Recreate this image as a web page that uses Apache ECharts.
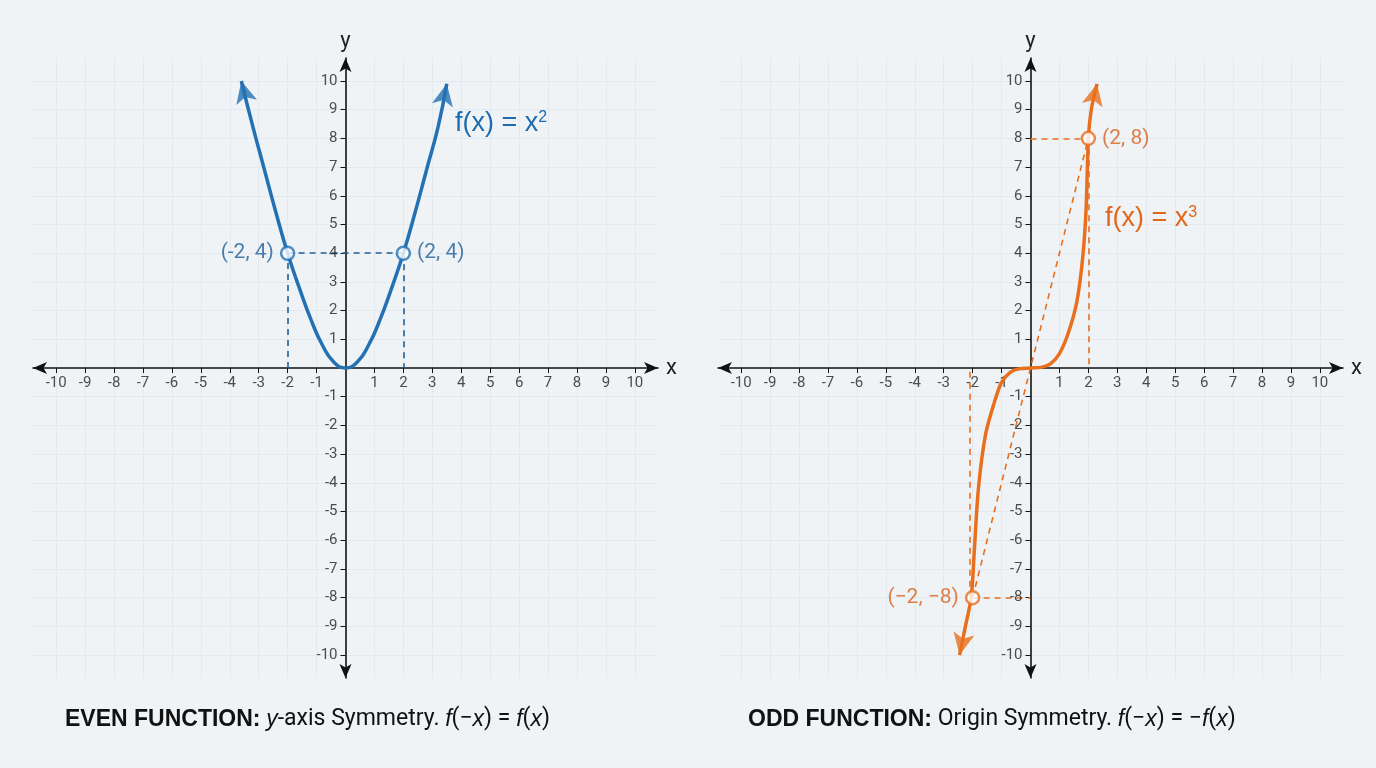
<!DOCTYPE html>
<html><head><meta charset="utf-8">
<script src="https://cdn.jsdelivr.net/npm/echarts@6/dist/echarts.min.js"></script>
<style>html,body{margin:0;background:#eff3f6}#c{width:1376px;height:768px}</style>
</head><body><div id="c"></div>
<script>
// tick labels
const ticks = [-10,-9,-8,-7,-6,-5,-4,-3,-2,-1,1,2,3,4,5,6,7,8,9,10];
// even curve
const evenX = [-3.6,-3.2,-2.8,-2.4,-2,-1.6,-1.2,-0.8,-0.4,0,0.4,0.8,1.2,1.6,2,2.4,2.8,3.2,3.5];
const evenY = [10,8.4,6.9,5.4,4,2.8,1.7,0.8,0.2,0,0.2,0.8,1.7,2.8,4,5.4,6.9,8.4,9.9];
// odd curve
const oddX = [-2.45,-2.25,-2.05,-1.95,-1.8,-1.55,-1.25,-1,-0.7,-0.4,0,0.4,0.7,1,1.3,1.6,1.8,1.92,2,2.1,2.3];
const oddY = [-10,-9,-8,-6.5,-4.2,-2.3,-1.2,-0.5,-0.15,-0.03,0,0.03,0.15,0.5,1.2,2.3,3.8,5.5,8,9,9.9];
const evenPts = [[-2,4],[2,4]];
const oddPts = [[-2,-8],[2,8]];
const blue = '#2370b3', orange = '#e86f1e';

const chart = echarts.init(document.getElementById('c'));
const zip = (a,b)=>a.map((v,i)=>[v,b[i]]);
function arrow(xs, ys, i, j, color, gi){
  const ang = Math.atan2(ys[j]-ys[i], xs[j]-xs[i])*180/Math.PI - 90;
  return {type:'scatter', xAxisIndex:gi, yAxisIndex:gi, symbol:'arrow', symbolSize:[16,22],
    symbolRotate:ang, itemStyle:{color}, data:[[xs[j],ys[j]]], z:5, silent:true};
}
function axes(gi){
  const common = {type:'value', min:-10.8, max:10.8, gridIndex:gi,
    axisLine:{onZero:true, symbol:['arrow','arrow'], symbolSize:[9,14], lineStyle:{color:'#111', width:1.6}},
    axisTick:{show:true, customValues:ticks, length:5, inside:false, lineStyle:{color:'#111'}},
    axisLabel:{show:false},
    splitLine:{show:true, lineStyle:{color:'#e3e9ee'}},
    nameTextStyle:{fontSize:22, color:'#222', fontFamily:'Roboto'}};
  return {x:Object.assign({}, common, {name:'x', nameGap:8}),
          y:Object.assign({}, common, {name:'y', nameGap:6})};
}
// tick labels drawn at the axis positions (axes cross at origin)
function tickLabels(gi){
  const lab = {show:true, color:'#222', fontSize:15, fontFamily:'Roboto', formatter:p=>String(p.data.t)};
  return [
    {type:'scatter', xAxisIndex:gi, yAxisIndex:gi, symbolSize:0, silent:true,
      label:Object.assign({position:'bottom', distance:8}, lab), data:ticks.map(t=>({value:[t,0], t}))},
    {type:'scatter', xAxisIndex:gi, yAxisIndex:gi, symbolSize:0, silent:true,
      label:Object.assign({position:'left', distance:8}, lab), data:ticks.map(t=>({value:[0,t], t}))}
  ];
}
const a0 = axes(0), a1 = axes(1);
function dashed(coords, color, gi){
  return {type:'lines', coordinateSystem:'cartesian2d', xAxisIndex:gi, yAxisIndex:gi, silent:true,
    lineStyle:{color, type:[6,5], width:1.6, opacity:1}, data:coords.map(c=>({coords:c}))};
}
function points(pts, color, gi, pos){
  return {type:'scatter', xAxisIndex:gi, yAxisIndex:gi, symbol:'circle', symbolSize:13, z:6,
    itemStyle:{color:'#fff', borderColor:color, borderWidth:2.5},
    data:pts.map((p,i)=>({value:p, label:{show:true, position:pos[i], distance:6,
      formatter:p[0]<0 && gi===1 ? '(\u22122, \u22128)' : '('+p[0]+', '+p[1]+')',
      color:gi?'#d9621a':'#1f5f99', fontSize:21, fontFamily:'Roboto'}}))};
}
const sup = {sup:{fontSize:16, verticalAlign:'top', padding:[0,0,12,0]}};
chart.setOption({
  backgroundColor:'#eff3f6',
  grid:[{left:33, top:58, width:625, height:620},{left:718, top:58, width:625, height:620}],
  xAxis:[a0.x, a1.x], yAxis:[a0.y, a1.y],
  series:[
    ...tickLabels(0), ...tickLabels(1),
    dashed([[[-2,0],[-2,4]],[[-2,4],[2,4]],[[2,4],[2,0]]], '#1f5f99', 0),
    {type:'line', xAxisIndex:0, yAxisIndex:0, smooth:true, symbol:'none', data:zip(evenX,evenY),
      lineStyle:{color:blue, width:3.5}, z:4},
    arrow(evenX, evenY, 1, 0, blue, 0), arrow(evenX, evenY, evenX.length-2, evenX.length-1, blue, 0),
    points(evenPts, blue, 0, ['left','right']),
    dashed([[[0,8],[2,8]],[[2,8],[2,0]],[[-2,-8],[0,-8]],[[-2.1,-8],[-2.1,0]],[[-2,-8],[2,8]]], orange, 1),
    {type:'line', xAxisIndex:1, yAxisIndex:1, smooth:0.3, symbol:'none', data:zip(oddX,oddY),
      lineStyle:{color:orange, width:3.5}, z:4},
    arrow(oddX, oddY, 1, 0, orange, 1), arrow(oddX, oddY, oddX.length-2, oddX.length-1, orange, 1),
    points(oddPts, orange, 1, ['left','right'])
  ],
  graphic:[
    {type:'text', left:455, top:110, z:10, style:{text:'{a|f(x) = x}{sup|2}', rich:Object.assign({a:{fontSize:27}},sup), fill:'#1f6bb0', fontFamily:'Roboto'}},
    {type:'text', left:1105, top:205, z:10, style:{text:'{a|f(x) = x}{sup|3}', rich:Object.assign({a:{fontSize:27}},sup), fill:'#e2671a', fontFamily:'Roboto'}},
    {type:'text', left:65, top:708, style:{fontFamily:'Roboto', fill:'#111', fontSize:23,
      text:'{b|EVEN FUNCTION:} {i|y}-axis Symmetry. {i|f}(\u2212{i|x}) = {i|f}({i|x})',
      rich:{b:{fontWeight:'bold',fontSize:23}, i:{fontStyle:'italic',fontSize:23}}}},
    {type:'text', left:748, top:708, style:{fontFamily:'Roboto', fill:'#111', fontSize:23,
      text:'{b|ODD FUNCTION:} Origin Symmetry. {i|f}(\u2212{i|x}) = \u2212{i|f}({i|x})',
      rich:{b:{fontWeight:'bold',fontSize:23}, i:{fontStyle:'italic',fontSize:23}}}}
  ]
});
</script></body></html>
